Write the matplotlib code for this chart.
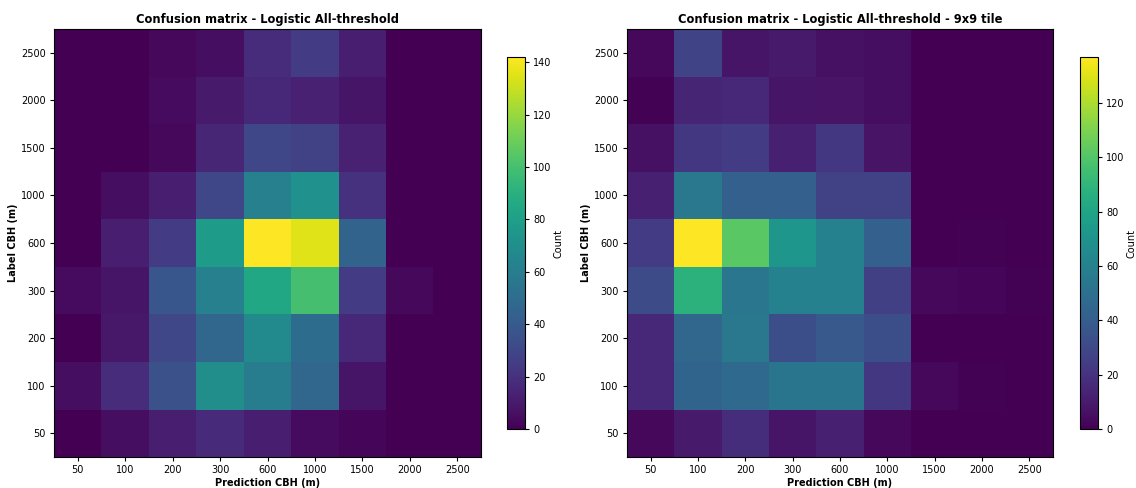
from matplotlib import pyplot as plt
import numpy as np

labels = ["50", "100", "200", "300", "600", "1000", "1500", "2000", "2500"]

# rows: true label 50 .. 2500 (bottom to top), cols: prediction 50 .. 2500
cm_all = np.array([
    [0, 5, 12, 17, 12, 4, 2, 0, 0],        # 50
    [5, 18, 35, 70, 60, 47, 8, 0, 0],      # 100
    [0, 9, 30, 47, 68, 50, 16, 0, 0],      # 200
    [4, 8, 38, 62, 85, 100, 25, 3, 0],     # 300
    [0, 12, 25, 78, 142, 135, 45, 0, 0],   # 600
    [0, 5, 12, 30, 62, 72, 20, 0, 0],      # 1000
    [0, 0, 3, 15, 30, 28, 13, 0, 0],       # 1500
    [0, 0, 4, 10, 16, 13, 8, 0, 0],        # 2000
    [0, 0, 3, 5, 18, 25, 12, 0, 0],        # 2500
])

cm_tile = np.array([
    [3, 10, 18, 8, 12, 3, 0, 0, 0],        # 50
    [16, 44, 47, 53, 53, 22, 3, 1, 0],     # 100
    [15, 45, 55, 33, 38, 33, 0, 0, 0],     # 200
    [32, 88, 54, 60, 60, 26, 3, 2, 1],     # 300
    [24, 137, 102, 72, 60, 42, 0, 1, 0],   # 600
    [12, 55, 42, 42, 27, 27, 0, 0, 0],     # 1000
    [6, 22, 24, 12, 22, 7, 0, 0, 0],       # 1500
    [1, 14, 16, 8, 7, 5, 0, 0, 0],         # 2000
    [3, 28, 8, 10, 6, 5, 0, 0, 0],         # 2500
])


def draw_matrix(fig, ax_rect, cb_rect, cm, title):
    ax = fig.add_axes(ax_rect)
    im = ax.imshow(cm, cmap="viridis", origin="lower", aspect="auto",
                   vmin=0, vmax=cm.max())
    ax.set_xticks(range(len(labels)))
    ax.set_xticklabels(labels, fontsize=7)
    ax.set_yticks(range(len(labels)))
    ax.set_yticklabels(labels, fontsize=7)
    ax.tick_params(length=3, pad=3)
    ax.set_title(title, fontsize=8.3, fontweight="bold", pad=4)
    ax.set_xlabel("Prediction CBH (m)", fontsize=7, fontweight="bold", labelpad=2)
    ax.set_ylabel("Label CBH (m)", fontsize=7, fontweight="bold", labelpad=2)

    cax = fig.add_axes(cb_rect)
    cb = fig.colorbar(im, cax=cax)
    cb.set_label("Count", fontsize=7, labelpad=1)
    cb.ax.tick_params(labelsize=7, length=3, pad=3)


def main():
    fig = plt.figure(figsize=(11.36, 4.88), dpi=100)
    W, H = 1136, 488

    draw_matrix(fig, [54 / W, 1 - 457 / H, 427 / W, 428 / H],
                [507 / W, 1 - 429 / H, 18 / W, 372 / H],
                cm_all, "Confusion matrix - Logistic All-threshold")
    draw_matrix(fig, [627 / W, 1 - 457 / H, 426 / W, 428 / H],
                [1080 / W, 1 - 429 / H, 18 / W, 372 / H],
                cm_tile, "Confusion matrix - Logistic All-threshold - 9x9 tile")

    fig.savefig("out.png", dpi=100)


if __name__ == "__main__":
    main()
